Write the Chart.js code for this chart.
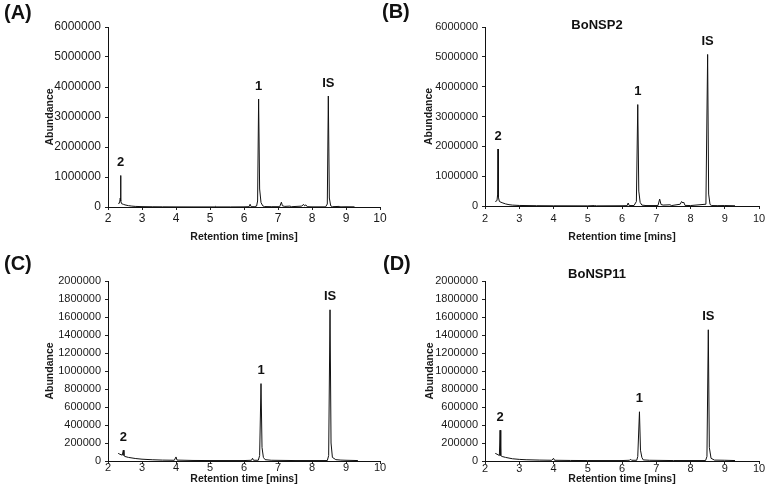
<!DOCTYPE html>
<html>
<head>
<meta charset="utf-8">
<script src="https://cdn.jsdelivr.net/npm/chart.js@4.4.1/dist/chart.umd.min.js"></script>
<style>
  body { margin: 0; background: #fff; width: 770px; height: 498px; position: relative; overflow: hidden; }
  canvas { position: absolute; }
</style>
</head>
<body>
<canvas id="chartA" width="392" height="249" style="left:0;top:0"></canvas>
<canvas id="chartB" width="392" height="249" style="left:378px;top:0"></canvas>
<canvas id="chartC" width="392" height="249" style="left:0;top:249px"></canvas>
<canvas id="chartD" width="392" height="249" style="left:378px;top:249px"></canvas>
<script>
// Tick values
const xTicks = [2, 3, 4, 5, 6, 7, 8, 9, 10];
const yTicksTop = [0, 1000000, 2000000, 3000000, 4000000, 5000000, 6000000];
const yTicksBottom = [0, 200000, 400000, 600000, 800000, 1000000, 1200000, 1400000, 1600000, 1800000, 2000000];

// Peak names, left to right
const peakNames = ["2", "1", "IS"];

// (A) retention time [mins] / abundance
const timeA = [2.30, 2.34, 2.36, 2.37, 2.38, 2.40, 2.45, 2.50, 2.60, 2.70,
  2.80, 3.00, 3.30, 3.60, 4.00, 4.50, 5.00, 5.15, 5.17, 5.19,
  5.60, 6.00, 6.15, 6.18, 6.21, 6.30, 6.37, 6.40, 6.43, 6.46,
  6.50, 6.55, 6.60, 6.80, 7.05, 7.10, 7.13, 7.20, 7.35, 7.40,
  7.70, 7.75, 7.78, 7.82, 7.86, 8.00, 8.40, 8.45, 8.48, 8.51,
  8.55, 8.60, 8.80, 8.85, 9.00, 9.25];
const abundA = [120000, 130000, 300000, 1050000, 200000, 110000, 90000, 70000, 45000, 30000,
  20000, 12000, 8000, 6000, 4000, 3000, 3000, 3000, 25000, 3000,
  3000, 5000, 10000, 90000, 10000, 10000, 30000, 200000, 3600000, 600000,
  150000, 40000, 15000, 10000, 10000, 160000, 40000, 20000, 30000, 10000,
  30000, 90000, 40000, 70000, 10000, 5000, 5000, 100000, 3700000, 300000,
  40000, 10000, 20000, 5000, 8000, 5000];
const peaksA = [2.37, 6.43, 8.48];

// (B) BoNSP2
const timeB = [2.30, 2.35, 2.37, 2.38, 2.39, 2.42, 2.50, 2.60, 2.70, 2.80,
  3.00, 3.50, 4.00, 5.00, 5.20, 5.25, 6.00, 6.15, 6.18, 6.21,
  6.35, 6.42, 6.46, 6.49, 6.53, 6.58, 6.70, 7.05, 7.10, 7.14,
  7.20, 7.40, 7.45, 7.70, 7.74, 7.78, 7.80, 7.84, 8.00, 8.45,
  8.50, 8.53, 8.57, 8.62, 8.80, 9.00, 9.30];
const abundB = [150000, 180000, 400000, 1910000, 300000, 150000, 110000, 70000, 45000, 30000,
  18000, 10000, 7000, 5000, 15000, 5000, 8000, 12000, 100000, 15000,
  15000, 150000, 3400000, 500000, 120000, 30000, 15000, 15000, 230000, 50000,
  30000, 40000, 15000, 60000, 150000, 100000, 130000, 20000, 15000, 60000,
  5080000, 400000, 50000, 15000, 12000, 15000, 8000];
const peaksB = [2.38, 6.46, 8.50];

// (C)
const timeC = [2.30, 2.35, 2.42, 2.45, 2.47, 2.50, 2.60, 2.80, 3.00, 3.30,
  3.60, 3.95, 4.00, 4.03, 4.50, 5.00, 6.00, 6.22, 6.25, 6.28,
  6.42, 6.46, 6.50, 6.53, 6.57, 6.62, 6.80, 7.50, 8.45, 8.49,
  8.53, 8.56, 8.60, 8.70, 8.85, 9.00, 9.35];
const abundC = [85000, 75000, 65000, 120000, 60000, 50000, 40000, 28000, 20000, 14000,
  10000, 8000, 45000, 10000, 6000, 5000, 5000, 8000, 30000, 8000,
  8000, 60000, 860000, 150000, 40000, 15000, 8000, 5000, 5000, 60000,
  1680000, 200000, 40000, 15000, 10000, 8000, 5000];
const peaksC = [2.45, 6.50, 8.53];

// (D) BoNSP11
const timeD = [2.30, 2.38, 2.42, 2.44, 2.46, 2.50, 2.60, 2.80, 3.00, 3.20,
  3.60, 3.95, 4.00, 4.03, 4.50, 5.00, 6.00, 6.22, 6.25, 6.28,
  6.43, 6.46, 6.51, 6.54, 6.58, 6.62, 6.80, 7.50, 8.44, 8.48,
  8.52, 8.55, 8.60, 8.70, 9.00, 9.30];
const abundD = [85000, 70000, 60000, 342000, 60000, 50000, 40000, 25000, 18000, 14000,
  10000, 8000, 30000, 8000, 6000, 5000, 5000, 8000, 20000, 8000,
  8000, 50000, 547000, 120000, 40000, 12000, 8000, 5000, 5000, 50000,
  1458000, 150000, 30000, 10000, 8000, 5000];
const peaksD = [2.44, 6.51, 8.52];

const FONT = "'Liberation Sans', Arial, Helvetica, sans-serif";
Chart.defaults.font.family = FONT;
Chart.defaults.color = "#1a1a1a";

// Peak labels, panel letter and sample title
const panelText = {
  id: "panelText",
  afterDatasetsDraw(chart, args, opts) {
    const { ctx, chartArea, scales: { x, y } } = chart;
    const pts = chart.data.datasets[0].data;
    ctx.save();
    ctx.fillStyle = "#111";
    ctx.textBaseline = "middle";

    ctx.font = "bold 13px " + FONT;
    ctx.textAlign = "center";
    opts.peaks.forEach((t, i) => {
      const p = pts.find((d) => Math.abs(d.x - t) < 1e-6);
      ctx.fillText(peakNames[i], x.getPixelForValue(t), y.getPixelForValue(p.y) - 13);
    });

    if (opts.title) {
      ctx.fillText(opts.title, chartArea.left + 112, 25);
    }

    ctx.font = "bold 20px " + FONT;
    ctx.textAlign = "left";
    ctx.fillText(opts.letter, opts.letterX, opts.letterY);
    ctx.restore();
  },
};

function makeChart(id, p) {
  return new Chart(document.getElementById(id), {
    type: "line",
    data: {
      datasets: [{
        data: p.times.map((t, i) => ({ x: t, y: p.values[i] })),
        borderColor: "#111",
        borderWidth: 1,
        pointRadius: 0,
        tension: 0,
        fill: false,
      }],
    },
    options: {
      responsive: false,
      animation: false,
      layout: { padding: { top: p.top, right: p.right, left: 0, bottom: 0 } },
      plugins: {
        legend: { display: false },
        tooltip: { enabled: false },
        panelText: { peaks: p.peaks, title: p.title, letter: p.letter, letterX: p.letterX, letterY: p.letterY },
      },
      scales: {
        x: {
          type: "linear",
          min: 2,
          max: 10,
          afterBuildTicks: (s) => { s.ticks = xTicks.map((v) => ({ value: v })); },
          afterFit: (s) => { s.height = p.xHeight; s.paddingLeft = 0; s.paddingRight = 0; },
          grid: { drawOnChartArea: false, tickLength: 3, color: "#222" },
          border: { color: "#111", width: 1 },
          ticks: { padding: p.xTickPad, font: { size: p.tickSize }, maxRotation: 0, autoSkip: false },
          title: {
            display: true,
            text: "Retention time [mins]",
            font: { size: 10.5, weight: "bold" },
            padding: { top: 0, bottom: p.xTitlePad },
          },
        },
        y: {
          min: 0,
          max: p.yTicks[p.yTicks.length - 1],
          afterBuildTicks: (s) => { s.ticks = p.yTicks.map((v) => ({ value: v })); },
          afterFit: (s) => { s.width = p.yWidth; s.paddingTop = 0; s.paddingBottom = 0; },
          grid: { drawOnChartArea: false, tickLength: 3, color: "#222" },
          border: { color: "#111", width: 1 },
          ticks: { padding: 4, font: { size: p.tickSize }, autoSkip: false, callback: (v) => String(v) },
          title: {
            display: true,
            text: "Abundance",
            font: { size: 10.5, weight: "bold" },
            padding: { top: p.yTitlePad, bottom: 0 },
          },
        },
      },
    },
    plugins: [panelText],
  });
}

makeChart("chartA", {
  times: timeA, values: abundA, peaks: peaksA, yTicks: yTicksTop,
  letter: "(A)", letterX: 4, letterY: 13,
  top: 27, right: 12, xHeight: 42, yWidth: 108, tickSize: 12, xTickPad: 1, xTitlePad: 6, yTitlePad: 44,
});
makeChart("chartB", {
  times: timeB, values: abundB, peaks: peaksB, yTicks: yTicksTop, title: "BoNSP2",
  letter: "(B)", letterX: 4, letterY: 12,
  top: 27, right: 11, xHeight: 43, yWidth: 107, tickSize: 11, xTickPad: 3, xTitlePad: 6, yTitlePad: 45,
});
makeChart("chartC", {
  times: timeC, values: abundC, peaks: peaksC, yTicks: yTicksBottom,
  letter: "(C)", letterX: 4, letterY: 15,
  top: 32, right: 12, xHeight: 37, yWidth: 108, tickSize: 11, xTickPad: -3, xTitlePad: 13, yTitlePad: 44,
});
makeChart("chartD", {
  times: timeD, values: abundD, peaks: peaksD, yTicks: yTicksBottom, title: "BoNSP11",
  letter: "(D)", letterX: 5, letterY: 15,
  top: 32, right: 11, xHeight: 37, yWidth: 107, tickSize: 11, xTickPad: -2, xTitlePad: 13, yTitlePad: 46,
});
</script>
</body>
</html>
